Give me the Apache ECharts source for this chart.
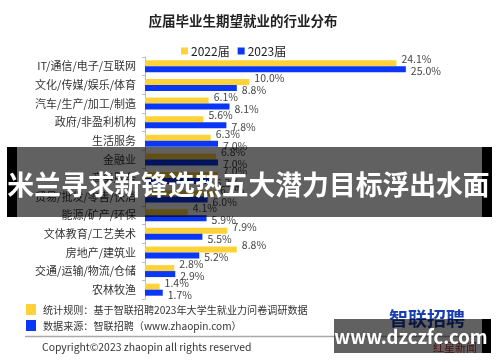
<!DOCTYPE html>
<html>
<head>
<meta charset="utf-8">
<script src="https://cdn.jsdelivr.net/npm/echarts@6/dist/echarts.min.js"></script>
<style>
html,body{margin:0;padding:0;background:#fff;}
#c{width:500px;height:362px;}
</style>
</head>
<body>
<div id="c"></div>
<script>
var categories = ['IT/通信/电子/互联网','文化/传媒/娱乐/体育','汽车/生产/加工/制造','政府/非盈利机构','生活服务','金融业','商务服务','贸易/批发/零售/快消','能源/矿产/环保','文体教育/工艺美术','房地产/建筑业','交通/运输/物流/仓储','农林牧渔'];
var values2022 = [24.1,10.0,6.1,5.6,6.3,6.8,7.0,6.7,4.1,7.9,8.8,2.8,1.4];
var values2023 = [25.0,8.8,8.1,7.8,7.0,7.0,6.3,6.0,5.9,5.5,5.2,2.9,1.7];
var seriesNames = ['2022届','2023届'];
var titleText = '应届毕业生期望就业的行业分布';
var bannerText = '米兰寻求新锋选热五大潜力目标浮出水面';
var noteRule = '统计规则：基于智联招聘2023年大学生就业力问卷调研数据';
var noteSource = '数据来源：智联招聘（www.zhaopin.com）';
var copyrightText = 'Copyright©2023 zhaopin all rights reserved';
var watermarkText = 'www.dzczfc.com';

var FONT = '"Noto Sans CJK SC","Noto Sans",sans-serif';
var YELLOW = '#FFD23A';
var BLUE = '#0A36F5';

var chart = echarts.init(document.getElementById('c'), null, {renderer:'canvas'});
chart.setOption({
  animation:false,
  textStyle:{fontFamily:FONT},
  title:{text:titleText,left:238,top:9,textAlign:'center',
    textStyle:{fontSize:13.5,fontWeight:'bold',color:'#222',fontFamily:FONT}},
  legend:{top:40,left:176,itemWidth:7,itemHeight:7,itemGap:8,icon:'rect',
    textStyle:{fontSize:12,color:'#222',padding:[0,0,0,-2],fontFamily:FONT},
    data:seriesNames},
  grid:{left:145,top:57,width:313,height:242,containLabel:false},
  xAxis:{type:'value',min:0,max:30,show:false},
  yAxis:{type:'category',data:categories,inverse:true,
    axisLine:{lineStyle:{color:'#bbbbbb',width:1}},
    axisTick:{show:true,length:3,lineStyle:{color:'#bbbbbb'}},
    axisLabel:{fontSize:11,color:'#333',margin:9,fontFamily:FONT}},
  series:[
    {name:seriesNames[0],type:'bar',data:values2022,barWidth:6,barGap:'0%',
     itemStyle:{color:YELLOW},
     label:{show:true,position:'right',distance:5,offset:[0,-4],formatter:function(p){return p.value.toFixed(1)+'%';},
       fontSize:10.5,color:'#444',fontFamily:FONT}},
    {name:seriesNames[1],type:'bar',data:values2023,barWidth:6,barGap:'0%',
     itemStyle:{color:BLUE},
     label:{show:true,position:'right',distance:5,offset:[0,2],formatter:function(p){return p.value.toFixed(1)+'%';},
       fontSize:10.5,color:'#444',fontFamily:FONT}}
  ],
  graphic:[
    {type:'rect',z:50,shape:{x:26,y:304,width:10,height:11},style:{fill:YELLOW}},
    {type:'rect',z:50,shape:{x:26,y:320,width:10,height:11},style:{fill:BLUE}},
    {type:'text',z:50,x:43,y:310,style:{text:noteRule,fontSize:10.1,fill:'#333',textVerticalAlign:'middle',fontFamily:FONT}},
    {type:'text',z:50,x:43,y:326,style:{text:noteSource,fontSize:10.1,fill:'#333',textVerticalAlign:'middle',fontFamily:FONT}},
    {type:'line',z:50,shape:{x1:25,y1:336.5,x2:478,y2:336.5},style:{stroke:'#aaaaaa',lineWidth:1.5}},
    {type:'text',z:50,x:42,y:347,style:{text:copyrightText,fontSize:10.4,fill:'#333',textVerticalAlign:'middle',fontFamily:FONT}},
    {type:'text',z:50,x:427,y:319,style:{text:'智联招聘',fontSize:19,fontWeight:'bold',fill:'#1a3fb0',textAlign:'center',textVerticalAlign:'middle',fontFamily:FONT}},
    {type:'text',z:50,x:455,y:348,style:{text:'红星新闻',fontSize:11,fill:'#c0302a',textAlign:'center',textVerticalAlign:'middle',fontFamily:FONT}},
    {type:'rect',z:100,shape:{x:7,y:147,width:10,height:70},style:{fill:'#000'}},
    {type:'rect',z:100,shape:{x:17,y:147,width:465,height:70},style:{fill:'rgba(0,0,0,0.62)'}},
    {type:'rect',z:100,shape:{x:482,y:147,width:10,height:70},style:{fill:'#000'}},
    {type:'text',z:101,x:248.5,y:185,style:{text:bannerText,fontSize:26.8,fontWeight:'bold',fill:'#fff',textAlign:'center',textVerticalAlign:'middle',fontFamily:FONT}},
    {type:'rect',z:100,shape:{x:334,y:319,width:148,height:34},style:{fill:'rgba(0,0,0,0.62)'}},
    {type:'rect',z:100,shape:{x:482,y:319,width:9,height:34},style:{fill:'#000'}},
    {type:'text',z:101,x:411,y:337,style:{text:watermarkText,fontSize:18.5,fontWeight:'bold',fill:'#fff',textAlign:'center',textVerticalAlign:'middle',fontFamily:FONT}}
  ]
});
</script>
</body>
</html>
